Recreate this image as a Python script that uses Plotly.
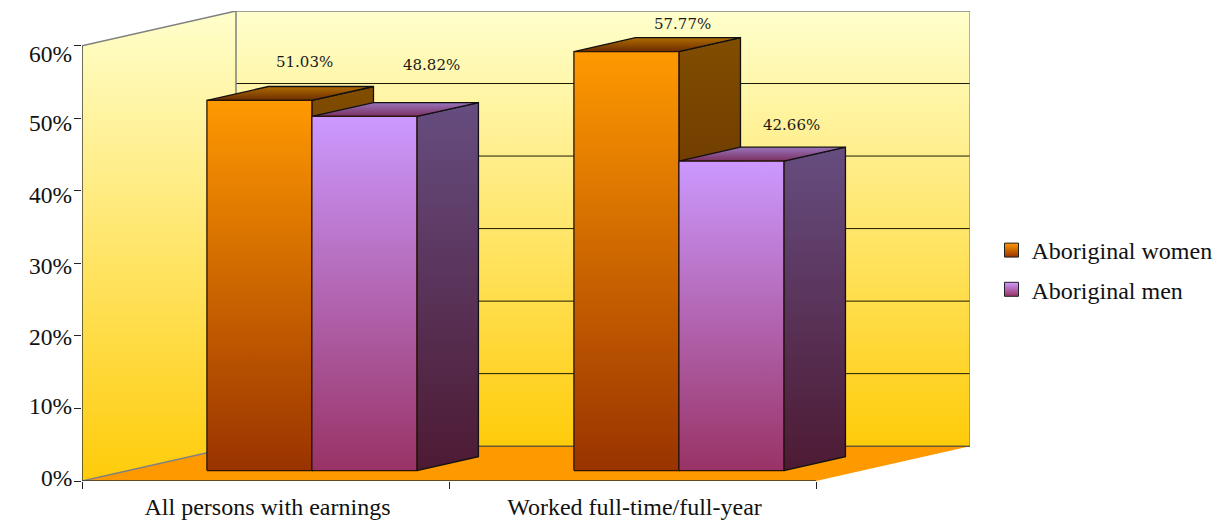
import plotly.graph_objects as go

# Earnings-gap figures by work pattern
categories = ["All persons with earnings", "Worked full-time/full-year"]
series_names = ["Aboriginal women", "Aboriginal men"]
women_values = [51.03, 57.77]
men_values = [48.82, 42.66]
y_ticks = [0, 10, 20, 30, 40, 50, 60]

FONT = "Liberation Serif"
LABEL_FONT = "DejaVu Serif"

# Oblique projection of the chart box, in axis units
DEPTH_X = 0.4196
DEPTH_Y = 4.8
BAR_NEAR = 0.3
BAR_FAR = 0.7
BAR_OFFSET = 0.2145
BAR_WIDTH = 0.286
Y_TOP = 60
X_END = len(categories)

WALL_SCALE = ("#FFCC0A", "#FFFFCC")
STYLES = [
    {"front": ("#993300", "#FF9900"), "side": ("#4D1A00", "#804D00"), "top": ("#6B2C00", "#B06C00")},
    {"front": ("#993366", "#CC99FF"), "side": ("#4D1A33", "#664D80"), "top": ("#7A2F60", "#9A74BC")},
]


def project(x, y, depth):
    return x + depth * DEPTH_X, y + depth * DEPTH_Y


def polygon(points, scale=None, color=None, line_color="rgba(0,0,0,0)", line_width=0):
    xs = [p[0] for p in points] + [points[0][0]]
    ys = [p[1] for p in points] + [points[0][1]]
    trace = dict(
        x=xs, y=ys, mode="lines", fill="toself", hoverinfo="skip", showlegend=False,
        line=dict(color=line_color, width=line_width),
    )
    if scale:
        trace["fillgradient"] = dict(type="vertical", colorscale=[[0, scale[0]], [1, scale[1]]])
        trace["fillcolor"] = scale[1]
    else:
        trace["fillcolor"] = color
    return go.Scatter(**trace)


def edge(a, b, color="#808080", width=1.5):
    return go.Scatter(
        x=[a[0], b[0]], y=[a[1], b[1]], mode="lines", hoverinfo="skip", showlegend=False,
        line=dict(color=color, width=width),
    )


fig = go.Figure()

# Walls and floor
fig.add_trace(polygon(
    [project(0, 0, 1), project(X_END, 0, 1), project(X_END, Y_TOP, 1), project(0, Y_TOP, 1)],
    scale=WALL_SCALE,
))
fig.add_trace(polygon(
    [project(0, 0, 0), project(0, 0, 1), project(0, Y_TOP, 1), project(0, Y_TOP, 0)],
    scale=WALL_SCALE,
))
fig.add_trace(polygon(
    [project(0, 0, 0), project(X_END, 0, 0), project(X_END, 0, 1), project(0, 0, 1)],
    color="#FF9900",
))

# Gridlines on the back wall
for tick in y_ticks[1:-1]:
    fig.add_trace(edge(project(0, tick, 1), project(X_END, tick, 1), color="#1a1a00", width=1))

# Wall outlines
fig.add_trace(edge(project(0, Y_TOP, 0), project(0, Y_TOP, 1)))
fig.add_trace(edge(project(0, Y_TOP, 1), project(X_END, Y_TOP, 1)))
fig.add_trace(edge(project(0, Y_TOP, 1), project(0, 0, 1)))
fig.add_trace(edge(project(X_END, Y_TOP, 1), project(X_END, 0, 1), color="rgba(128,128,128,0.8)"))
fig.add_trace(edge(project(0, 0, 0), project(0, 0, 1)))
fig.add_trace(edge(project(0, 0, 1), project(X_END, 0, 1), color="#665c33"))

# Bars: each series sits beside the previous one, nearest faces drawn last
for cat in range(len(categories)):
    for s, values in enumerate([women_values, men_values]):
        v = values[cat]
        x0 = cat + BAR_OFFSET + s * BAR_WIDTH
        x1 = x0 + BAR_WIDTH
        style = STYLES[s]
        fig.add_trace(polygon(
            [project(x1, 0, BAR_NEAR), project(x1, 0, BAR_FAR), project(x1, v, BAR_FAR), project(x1, v, BAR_NEAR)],
            scale=style["side"], line_color="#111111", line_width=1.3,
        ))
        fig.add_trace(polygon(
            [project(x0, v, BAR_NEAR), project(x1, v, BAR_NEAR), project(x1, v, BAR_FAR), project(x0, v, BAR_FAR)],
            scale=style["top"], line_color="#111111", line_width=1.3,
        ))
        fig.add_trace(polygon(
            [project(x0, 0, BAR_NEAR), project(x1, 0, BAR_NEAR), project(x1, v, BAR_NEAR), project(x0, v, BAR_NEAR)],
            scale=style["front"], line_color="#2a1408", line_width=1.3,
        ))

# Axis lines on the front plane
fig.add_trace(edge((0, 0), (0, Y_TOP), color="#222222", width=1.3))
fig.add_trace(edge((0, 0), (X_END, 0), color="#333333", width=1.5))

# Legend entries
for name, front in zip(series_names, STYLES):
    fig.add_trace(go.Scatter(
        x=[None], y=[None], mode="markers", name=name, legendgroup=name, hoverinfo="skip",
        marker=dict(
            symbol="square", size=14, color=front["front"][1],
            gradient=dict(type="vertical", color=front["front"][0]),
            line=dict(color="#222222", width=1),
        ),
    ))

annotations = []

# Value labels sit behind and above their bars
label_shifts = [(14, 38), (36, 51), (25, 28), (29, 36)]
label_values = []
for cat in range(len(categories)):
    for s, values in enumerate([women_values, men_values]):
        label_values.append((cat, s, values[cat]))
for (cat, s, v), (dx, dy) in zip(label_values, label_shifts):
    x = cat + BAR_OFFSET + (s + 0.5) * BAR_WIDTH
    px, py = project(x, v, BAR_NEAR + (BAR_FAR - BAR_NEAR) / 2)
    annotations.append(dict(
        x=px, y=py - (BAR_FAR - BAR_NEAR) / 2 * DEPTH_Y, text=f"{v:.2f}%", showarrow=False,
        xshift=dx, yshift=dy, font=dict(family=LABEL_FONT, size=15, color="#1a1a1a"),
    ))

# Value-axis labels
y_label_shifts = [3, 2, -1, -3, -4, -5, -8]
for tick, shift in zip(y_ticks, y_label_shifts):
    annotations.append(dict(
        x=0, y=tick, text=f"{tick}%", showarrow=False, xanchor="right", xshift=-8, yshift=shift,
        font=dict(family=FONT, size=23.5, color="#111111"),
    ))

fig.update_layout(
    width=1231, height=524,
    margin=dict(l=82, r=261, t=11, b=43.3, autoexpand=False),
    paper_bgcolor="white", plot_bgcolor="white",
    hovermode=False,
    font=dict(family=FONT, color="#111111"),
    showlegend=True,
    legend=dict(
        x=(1012 - 20.5) / 1231, xref="container", yref="container", xanchor="left",
        y=1 - 228 / 524, yanchor="top",
        font=dict(size=24), tracegroupgap=5, bgcolor="rgba(0,0,0,0)",
    ),
    annotations=annotations,
    xaxis=dict(
        range=[0, X_END + DEPTH_X], showgrid=False, zeroline=False, showline=False,
        tickmode="array", tickvals=[i + 0.5 for i in range(len(categories))], ticktext=categories,
        ticks="", tickfont=dict(size=24), ticklabelstandoff=9, ticklabelshift=2, automargin=False,
        minor=dict(tickmode="array", tickvals=list(range(len(categories) + 1)), ticks="outside",
                   ticklen=7, tickwidth=1.3, tickcolor="#222222", showgrid=False),
    ),
    yaxis=dict(
        range=[0, Y_TOP + DEPTH_Y], showgrid=False, zeroline=False, showline=False, automargin=False,
        tickmode="array", tickvals=y_ticks, showticklabels=False,
        ticks="outside", ticklen=7, tickwidth=1.3, tickcolor="#222222",
    ),
)

fig.write_html("out.html")
